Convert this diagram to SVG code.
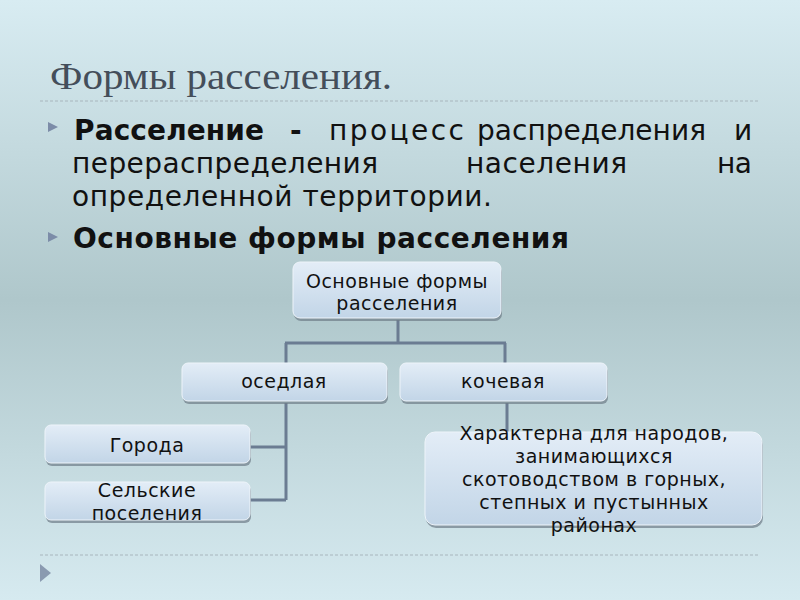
<svg xmlns="http://www.w3.org/2000/svg" width="800" height="600" viewBox="0 0 800 600">
<defs>
<linearGradient id="bg" x1="0" y1="0" x2="0" y2="1">
<stop offset="0" stop-color="#d8ecf2"/>
<stop offset="0.5" stop-color="#afc7cb"/>
<stop offset="1" stop-color="#d6eaf0"/>
</linearGradient>
<linearGradient id="box" x1="0" y1="0" x2="0" y2="1">
<stop offset="0" stop-color="#e3edf7"/>
<stop offset="1" stop-color="#c2d5e7"/>
</linearGradient>
<style>
.title{font-family:"Liberation Serif",serif;font-size:38px;fill:#444e5a}
.body{font-family:"DejaVu Sans",sans-serif;font-size:28px;fill:#111}
.b{font-weight:bold}
.node rect.shadow{fill:#6d7c88;opacity:0.7}
.node rect.face{fill:url(#box);stroke:#eef4fa;stroke-width:1}
.node text{font-family:"DejaVu Sans",sans-serif;font-size:19px;letter-spacing:0.5px;fill:#111;text-anchor:middle}
.conn{stroke:#6b7c92;stroke-width:3;fill:none}
.dash{stroke:#a8b6bd;stroke-width:1;stroke-dasharray:3,2}
.bul{fill:#7c8ca8}
</style>
</defs>
<rect width="800" height="600" fill="url(#bg)"/>
<text class="title" x="50" y="89" textLength="342" lengthAdjust="spacingAndGlyphs">Формы расселения.</text>
<line class="dash" x1="40" y1="101" x2="760" y2="101"/>
<polygon class="bul" points="48,122 58,127 48,132"/>
<polygon class="bul" points="48,232 58,237 48,242"/>
<g class="body">
<text class="b" x="74" y="140" textLength="190" lengthAdjust="spacing">Расселение</text>
<text class="b" x="290" y="140">-</text>
<text x="329" y="140" textLength="135" lengthAdjust="spacing">процесс</text>
<text x="477" y="140" textLength="229" lengthAdjust="spacing">распределения</text>
<text x="734" y="140" textLength="18" lengthAdjust="spacing">и</text>
<text x="72" y="173" textLength="306" lengthAdjust="spacing">перераспределения</text>
<text x="466" y="173" textLength="161" lengthAdjust="spacing">населения</text>
<text x="717" y="173" textLength="35" lengthAdjust="spacing">на</text>
<text x="72" y="206" textLength="420" lengthAdjust="spacing">определенной территории.</text>
<text class="b" x="73" y="248" textLength="496" lengthAdjust="spacing">Основные формы расселения</text>
</g>
<g id="connectors">
<path class="conn" d="M398,320 V343 M285,343 H506 M286,343 V363 M505,343 V363"/>
<path class="conn" d="M286,403 V500 M250,447 H286 M250,500 H286"/>
<path class="conn" d="M507,403 V432"/>
</g>
<g id="n_main" class="node">
<rect class="shadow" x="294" y="265" width="208" height="56" rx="7"/>
<rect class="face" x="293" y="262" width="208" height="56" rx="7"/>
<text x="397" y="288">Основные формы</text>
<text x="397" y="310">расселения</text>
</g>
<g id="n_osedlaya" class="node">
<rect class="shadow" x="183" y="366" width="205" height="38" rx="6"/>
<rect class="face" x="182" y="363" width="205" height="38" rx="6"/>
<text x="284" y="388">оседлая</text>
</g>
<g id="n_kochevaya" class="node">
<rect class="shadow" x="401" y="366" width="207" height="38" rx="6"/>
<rect class="face" x="400" y="363" width="207" height="38" rx="6"/>
<text x="503" y="388">кочевая</text>
</g>
<g id="n_goroda" class="node">
<rect class="shadow" x="46" y="428" width="205" height="38" rx="6"/>
<rect class="face" x="45" y="425" width="205" height="38" rx="6"/>
<text x="147" y="452">Города</text>
</g>
<g id="n_selskie" class="node">
<rect class="shadow" x="46" y="485" width="205" height="38" rx="6"/>
<rect class="face" x="45" y="482" width="205" height="38" rx="6"/>
<text x="147" y="497">Сельские</text>
<text x="147" y="520">поселения</text>
</g>
<g id="n_kochevaya_desc" class="node">
<rect class="shadow" x="426" y="435" width="337" height="93" rx="10"/>
<rect class="face" x="425" y="432" width="337" height="93" rx="10"/>
<text x="594" y="440">Характерна для народов,</text>
<text x="594" y="463">занимающихся</text>
<text x="594" y="486">скотоводством в горных,</text>
<text x="594" y="509">степных и пустынных</text>
<text x="594" y="532">районах</text>
</g>
<line class="dash" x1="40" y1="555" x2="760" y2="555"/>
<polygon fill="#8a9ab0" points="40,564 51,573 40,582"/>
</svg>
